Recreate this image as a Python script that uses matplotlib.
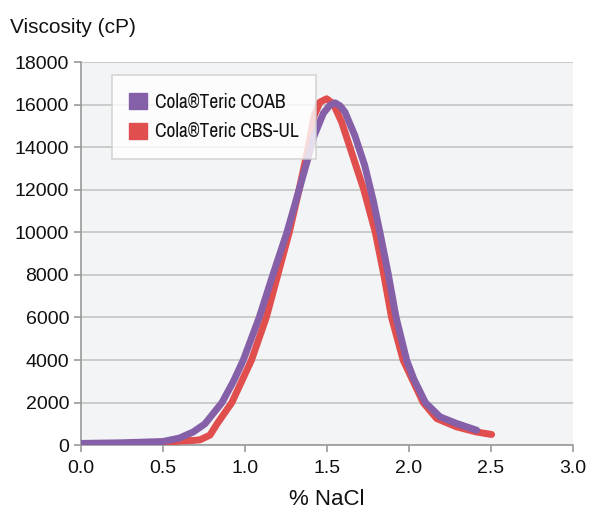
import matplotlib
matplotlib.use("Agg")
import matplotlib.pyplot as plt
from matplotlib import font_manager
from matplotlib.patches import Patch

# main text in Liberation Sans; legend in a narrow sans if one is installed
plt.rcParams["font.family"] = ["Liberation Sans", "DejaVu Sans"]
names = {f.name for f in font_manager.fontManager.ttflist}
narrow = [n for n in sorted(names) if "Narrow" in n or "Condensed" in n]
LEG_FAMILY = (narrow[:1] or ["Liberation Sans"]) + ["DejaVu Sans"]

# Cola®Teric COAB (purple)
coab_x = [0.0, 0.25, 0.5, 0.60, 0.685, 0.756, 0.86, 0.93, 0.99, 1.087, 1.17, 1.256,
          1.33, 1.385, 1.42, 1.478, 1.515, 1.549, 1.58, 1.61, 1.67, 1.73, 1.782, 1.823,
          1.874, 1.921, 1.986, 2.03, 2.10, 2.189, 2.29, 2.413]
coab_y = [80, 110, 170, 330, 620, 1000, 2000, 3000, 4000, 6000, 8000, 10000,
          12000, 13500, 14500, 15600, 15950, 16090, 15950, 15650, 14550, 13150, 11500, 10000,
          8030, 6020, 3990, 3100, 2000, 1330, 1020, 700]

# Cola®Teric CBS-UL (red)
cbs_x = [0.0, 0.3, 0.5, 0.604, 0.685, 0.726, 0.787, 0.83, 0.92, 0.98, 1.04, 1.13,
         1.20, 1.27, 1.33, 1.386, 1.423, 1.457, 1.498, 1.539, 1.59, 1.64, 1.725,
         1.795, 1.847, 1.894, 1.965, 2.087, 2.169, 2.29, 2.41, 2.504]
cbs_y = [60, 80, 110, 190, 220, 250, 470, 1000, 2000, 3000, 4000, 6000,
         8000, 10000, 12000, 14000, 15500, 16120, 16280, 16040, 15180, 14000, 12000,
         10000, 8000, 6000, 3990, 2000, 1250, 860, 620, 500]

x_ticks = [0.0, 0.5, 1.0, 1.5, 2.0, 2.5, 3.0]
y_ticks = list(range(0, 18001, 2000))

PURPLE = "#8560a8"
RED = "#e04e4e"
INK = "#111111"

fig = plt.figure(figsize=(5.95, 5.14), dpi=100)
ax = fig.add_axes([0.136, 0.134, 0.827, 0.745])
ax.set_facecolor("#f3f4f6")

ax.plot(cbs_x, cbs_y, color=RED, lw=5, solid_capstyle="round", solid_joinstyle="round", zorder=3)
ax.plot(coab_x, coab_y, color=PURPLE, lw=5, solid_capstyle="round", solid_joinstyle="round", zorder=4)

ax.set_xlim(0, 3.0)
ax.set_ylim(0, 18000)
ax.set_xticks(x_ticks)
ax.set_xticklabels([f"{v:.1f}" for v in x_ticks])
ax.set_yticks(y_ticks)
ax.yaxis.grid(True, color="#c4c4c4", lw=1.2)
ax.set_axisbelow(True)
for s in ("top", "right"):
    ax.spines[s].set_visible(False)
for s in ("left", "bottom"):
    ax.spines[s].set_color("#9a9a9a")
    ax.spines[s].set_linewidth(1.2)
ax.tick_params(colors="#9a9a9a", labelcolor=INK, labelsize=14, length=5, width=1.2)
ax.tick_params(axis="x", pad=6)

ax.set_xlabel("% NaCl", fontsize=16, labelpad=8, color=INK)
fig.text(0.017, 1 - 33 / 514, "Viscosity (cP)", fontsize=15, ha="left", va="baseline", color=INK)

handles = [Patch(color=PURPLE, label="Cola\u00aeTeric COAB"),
           Patch(color=RED, label="Cola\u00aeTeric CBS-UL")]
leg = ax.legend(handles=handles, loc="upper left", bbox_to_anchor=(0.063, 0.966),
                borderaxespad=0, prop={"family": LEG_FAMILY, "size": 14},
                frameon=True, fancybox=False, handlelength=0.9, handleheight=0.9,
                handletextpad=0.4, borderpad=0.9, labelspacing=0.55)
leg.get_frame().set_edgecolor("#cccccc")
leg.get_frame().set_linewidth(1.2)
for t in leg.get_texts():
    t.set_color(INK)

fig.savefig("out.png", dpi=100)
